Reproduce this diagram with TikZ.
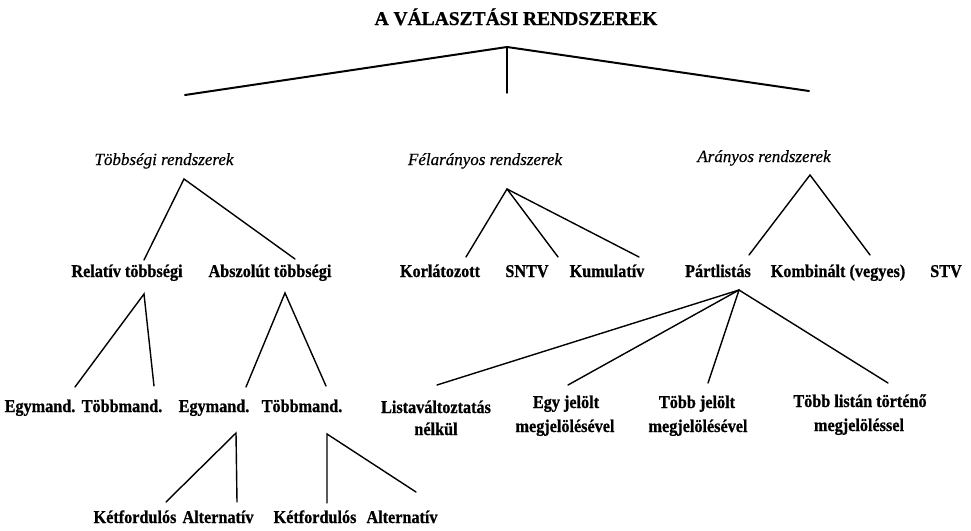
\documentclass[tikz,border=0pt]{standalone}
\usepackage{fontspec}
\setmainfont{Liberation Serif}
\newfontfamily\condserif[FakeStretch=0.9, BoldFeatures={FakeBold=0.8}]{Liberation Serif}
\newfontfamily\titleserif[BoldFeatures={FakeBold=0.8}, ItalicFeatures={FakeBold=0.4}]{Liberation Serif}
\tikzset{
  lbl/.style={inner sep=0pt, anchor=base, font=\condserif\bfseries\fontsize{18}{20}\selectfont},
  cat/.style={inner sep=0pt, anchor=base, font=\titleserif\itshape\fontsize{17}{20}\selectfont},
  ttl/.style={inner sep=0pt, anchor=base, font=\titleserif\bfseries\fontsize{19.5}{22}\selectfont},
  edge/.style={line width=1.4pt, line cap=round},
  topedge/.style={line width=2pt, line cap=round},
}
\begin{document}
\begin{tikzpicture}[x=1pt,y=-1pt]
\useasboundingbox[fill=white] (0,0) rectangle (971,530);
% title
\node[ttl] (title) at (516,25) {A VÁLASZTÁSI RENDSZEREK};
% categories
\node[cat] (tobb) at (164,165) {Többségi rendszerek};
\node[cat] (fel) at (485,165) {Félarányos rendszerek};
\node[cat] (ara) at (764,162) {Arányos rendszerek};
% second row
\node[lbl] (rel) at (127,277) {Relatív többségi};
\node[lbl] (absz) at (270,277) {Abszolút többségi};
\node[lbl] (kor) at (440,277) {Korlátozott};
\node[lbl] (sntv) at (527,277) {SNTV};
\node[lbl] (kum) at (607,277) {Kumulatív};
\node[lbl] (part) at (718,277) {Pártlistás};
\node[lbl] (komb) at (838,277) {Kombinált (vegyes)};
\node[lbl] (stv) at (946,277) {STV};
% third row
\node[lbl] (egy1) at (40,412) {Egymand.};
\node[lbl] (tobbm1) at (122,412) {Többmand.};
\node[lbl] (egy2) at (214,412) {Egymand.};
\node[lbl] (tobbm2) at (302,412) {Többmand.};
\node[lbl] (lista) at (436,413) {Listaváltoztatás};
\node[lbl] (listab) at (436,435) {nélkül};
\node[lbl] (egyj) at (566,408) {Egy jelölt};
\node[lbl] (egyjb) at (565,432) {megjelölésével};
\node[lbl] (tobbj) at (697,408) {Több jelölt};
\node[lbl] (tobbjb) at (698,432) {megjelölésével};
\node[lbl] (tobbl) at (860,407) {Több listán történő};
\node[lbl] (tobblb) at (859,431) {megjelöléssel};
% bottom row
\node[lbl] (ket1) at (135,523) {Kétfordulós};
\node[lbl] (alt1) at (218,523) {Alternatív};
\node[lbl] (ket2) at (315,523) {Kétfordulós};
\node[lbl] (alt2) at (402,523) {Alternatív};
% connector points
\coordinate (ta) at (507,47);
\coordinate (te1) at (185,95);
\coordinate (te2) at (507,93);
\coordinate (te3) at (809,91);
\coordinate (tobbA) at (184,179);
\coordinate (relT) at (144,260);
\coordinate (abszT) at (295,259);
\coordinate (felA) at (507,189);
\coordinate (korT) at (466,257);
\coordinate (sntvT) at (558,257);
\coordinate (kumT) at (639,257);
\coordinate (araA) at (810,175);
\coordinate (partT) at (749,255);
\coordinate (kombT) at (870,255);
\coordinate (relA) at (144,294);
\coordinate (egy1T) at (75,387);
\coordinate (tobbm1T) at (154,386);
\coordinate (abszA) at (285,293);
\coordinate (egy2T) at (246,387);
\coordinate (tobbm2T) at (326,386);
\coordinate (egy2A) at (236,433);
\coordinate (ket1T) at (166,502);
\coordinate (alt1T) at (237,502);
\coordinate (tobbm2A) at (327,434);
\coordinate (ket2T) at (327,503);
\coordinate (alt2T) at (416,492);
\coordinate (partA) at (739,290);
\coordinate (listaT) at (437,385);
\coordinate (egyjT) at (568,385);
\coordinate (tobbjT) at (708,383);
\coordinate (tobblT) at (888,383);
% connectors
\draw[topedge] (te1) -- (ta) -- (te3);
\draw[edge] (ta) -- (te2);
\draw[edge] (relT) -- (tobbA) -- (abszT);
\draw[edge] (felA) -- (korT);
\draw[edge] (felA) -- (sntvT);
\draw[edge] (felA) -- (kumT);
\draw[edge] (partT) -- (araA) -- (kombT);
\draw[edge] (egy1T) -- (relA) -- (tobbm1T);
\draw[edge] (egy2T) -- (abszA) -- (tobbm2T);
\draw[edge] (ket1T) -- (egy2A) -- (alt1T);
\draw[edge] (ket2T) -- (tobbm2A) -- (alt2T);
\draw[edge] (partA) -- (listaT);
\draw[edge] (partA) -- (egyjT);
\draw[edge] (partA) -- (tobbjT);
\draw[edge] (partA) -- (tobblT);
\end{tikzpicture}
\end{document}
